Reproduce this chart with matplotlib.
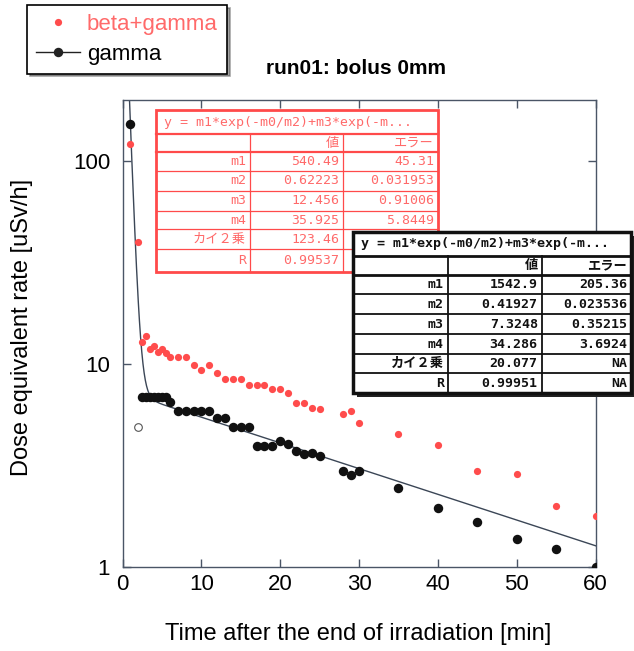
import numpy as np
import matplotlib
matplotlib.use('Agg')
import matplotlib.pyplot as plt
from matplotlib.lines import Line2D
from matplotlib.patches import Rectangle

plt.rcParams['font.family'] = ['Liberation Sans', 'DejaVu Sans']

############################################################
# data

# beta+gamma (red dots)
bg_time = [1, 2, 2.5, 3, 3.5, 4, 4.5, 5, 5.5, 6, 7, 8, 9, 10, 11, 12, 13, 14, 15,
           16, 17, 18, 19, 20, 21, 22, 23, 24, 25, 28, 29, 30, 35, 40, 45, 50, 55, 60]
bg_rate = [121, 40, 12.8, 13.8, 11.9, 12.3, 11.4, 11.8, 11.3, 10.8, 10.8, 10.8, 9.9,
           9.4, 9.9, 9.0, 8.4, 8.4, 8.4, 7.9, 7.9, 7.9, 7.5, 7.5, 7.2, 6.4, 6.4, 6.1,
           6.0, 5.7, 5.9, 5.1, 4.5, 4.0, 2.97, 2.88, 1.99, 1.79]

# gamma (black dots)
g_time = [1, 2.5, 3, 3.5, 4, 4.5, 5, 5.5, 6, 7, 8, 9, 10, 11, 12, 13, 14, 15, 16,
          17, 18, 19, 20, 21, 22, 23, 24, 25, 28, 29, 30, 35, 40, 45, 50, 55, 60]
g_rate = [152, 6.86, 6.86, 6.86, 6.86, 6.86, 6.86, 6.86, 6.48, 5.9, 5.9, 5.9, 5.9,
          5.9, 5.4, 5.4, 4.9, 4.9, 4.9, 3.93, 3.93, 3.93, 4.16, 4.04, 3.74, 3.6,
          3.63, 3.53, 2.96, 2.84, 2.96, 2.46, 1.96, 1.67, 1.37, 1.22, 1.0]

# excluded gamma point (open circle)
g_excl_time = [2]
g_excl_rate = [4.9]

# fit tables
row_names = ['m1', 'm2', 'm3', 'm4', 'カイ２乗', 'R']
bg_values = ['540.49', '0.62223', '12.456', '35.925', '123.46', '0.99537']
bg_errors = ['45.31', '0.031953', '0.91006', '5.8449', 'NA', 'NA']
g_values = ['1542.9', '0.41927', '7.3248', '34.286', '20.077', '0.99951']
g_errors = ['205.36', '0.023536', '0.35215', '3.6924', 'NA', 'NA']
fit_title = 'y = m1*exp(-m0/m2)+m3*exp(-m...'

# gamma fit parameters (from the black table)
m1, m2, m3, m4 = 1542.9, 0.41927, 7.3248, 34.286

############################################################

W, H = 634, 651
fig = plt.figure(figsize=(W / 100, H / 100), dpi=100)

def fx(px):
    return px / W

def fy(py):
    return 1 - py / H

ax = fig.add_axes([fx(122.6), fy(567), fx(595.5) - fx(122.6), fy(100) - fy(567)])

t = np.linspace(0.5, 60, 800)
fit = m1 * np.exp(-t / m2) + m3 * np.exp(-t / m4)
ax.plot(t, fit, color='#3b4656', lw=1.0, zorder=2)

ax.plot(bg_time, bg_rate, linestyle='none', marker='o', ms=5.2,
        color='#ff4c4c', mec='none', zorder=3)
ax.plot(g_time, g_rate, linestyle='none', marker='o', ms=6.8,
        color='#111111', mec='none', zorder=4)
ax.plot(g_excl_time, g_excl_rate, linestyle='none', marker='o', ms=5.5,
        mfc='white', mec='#555555', mew=0.8, zorder=4)

ax.set_yscale('log')
ax.set_xlim(0, 60)
ax.set_ylim(1, 200)
ax.set_xticks([0, 10, 20, 30, 40, 50, 60])
ax.set_yticks([1, 10, 100])
ax.set_yticklabels(['1', '10', '100'])
ax.yaxis.set_minor_locator(matplotlib.ticker.NullLocator())
ax.tick_params(which='both', direction='in', top=True, right=True,
               length=6, width=1, color='#4a5566', labelsize=16)
ax.tick_params(axis='x', pad=5)
ax.tick_params(axis='y', pad=9)
for s in ax.spines.values():
    s.set_color('#4a5566')
    s.set_linewidth(1.0)

fig.text(fx(22), fy(327), 'Dose equivalent rate [uSv/h]', rotation=90,
         ha='center', va='center', fontsize=17)
fig.text(fx(358), fy(634), 'Time after the end of irradiation [min]',
         ha='center', va='center', fontsize=17)
fig.text(fx(356), fy(68), 'run01: bolus 0mm', ha='center', va='center',
         fontsize=15, fontweight='bold')

# legend
handles = [Line2D([], [], linestyle='none', marker='o', ms=5.2, color='#ff4c4c', mec='none'),
           Line2D([], [], color='#222222', lw=1.0, marker='o', ms=6.8, mec='none')]
leg = fig.legend(handles, ['beta+gamma', 'gamma'], loc='upper left',
                 bbox_to_anchor=(fx(27), fy(5)), borderaxespad=0, fontsize=16,
                 frameon=True, fancybox=False, shadow=True, edgecolor='black',
                 handlelength=2.0, handletextpad=0.3, borderpad=0.4,
                 labelspacing=0.4)
leg.get_frame().set_linewidth(1.2)
leg.get_texts()[0].set_color('#ff6a6a')

############################################################
# fit result tables

def draw_table(x0, x1, cols, rows_y, values, errors, color, txtcolor,
               outer_lw, inner_lw, bold, z, shadow, cover=None):
    y0 = rows_y[0]
    y1 = rows_y[-1]
    if shadow:
        fig.add_artist(Rectangle((fx(x0 + 4), fy(y1 + 4)), fx(x1) - fx(x0),
                                 fy(y0) - fy(y1), transform=fig.transFigure,
                                 facecolor='#222222', edgecolor='none', zorder=z))
    fig.add_artist(Rectangle((fx(x0), fy(y1)), fx(x1) - fx(x0), fy(y0) - fy(y1),
                             transform=fig.transFigure, facecolor='white',
                             edgecolor=color, lw=outer_lw, zorder=z + 0.1))
    for i, yy in enumerate(rows_y[1:-1]):
        lw = outer_lw * 0.8 if i < 2 else inner_lw
        fig.add_artist(Line2D([fx(x0), fx(x1)], [fy(yy), fy(yy)],
                              transform=fig.transFigure, color=color, lw=lw,
                              zorder=z + 0.2))
    for xx in cols:
        fig.add_artist(Line2D([fx(xx), fx(xx)], [fy(rows_y[1]), fy(y1)],
                              transform=fig.transFigure, color=color, lw=inner_lw,
                              zorder=z + 0.2))
    fam = ['DejaVu Sans Mono', 'Noto Sans CJK JP']
    wt = 'bold' if bold else 'normal'
    fs = 9.5
    fig.text(fx(x0 + 8), fy((rows_y[0] + rows_y[1]) / 2), fit_title, ha='left',
             va='center', fontsize=fs, family=fam, color=txtcolor, weight=wt,
             zorder=z + 0.3)
    ends = [cols[0] - 4, cols[1] - 4, x1 - 4]
    table_rows = [['', '値', 'エラー']] + [[a, b, c] for a, b, c in zip(row_names, values, errors)]
    for r, row in enumerate(table_rows):
        yc_px = (rows_y[r + 1] + rows_y[r + 2]) / 2
        for c, txt in enumerate(row):
            # cells lying under the other table are not visible
            if cover is not None and cover[0] < ends[c] < cover[1] and cover[2] < yc_px < cover[3]:
                continue
            fig.text(fx(ends[c]), fy(yc_px), txt, ha='right', va='center', fontsize=fs,
                     family=fam, color=txtcolor, weight=wt, zorder=z + 0.3)

draw_table(156, 438, [250, 343],
           [110, 134.3, 152.3, 171, 191, 211, 229.3, 249.3, 271.7],
           bg_values, bg_errors, '#ff4a4a', '#ff6a6a', 2.0, 0.9, False, 5, False,
           cover=(353, 631, 232, 393.3))
draw_table(353, 631, [448, 541.7],
           [232, 255.7, 275, 294.3, 314.3, 334.3, 354.3, 373.3, 393.3],
           g_values, g_errors, '#111111', '#111111', 2.5, 1.3, True, 10, True)

fig.savefig('out.png', dpi=100)
